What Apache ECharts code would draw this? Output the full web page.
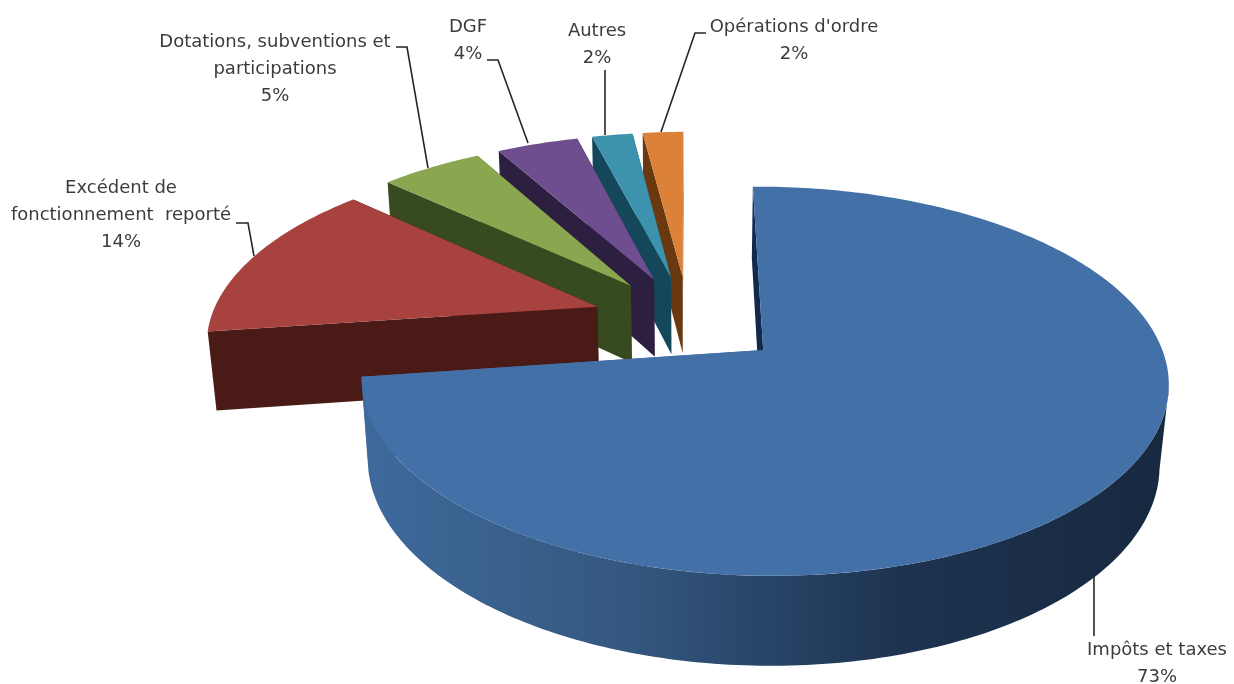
<!DOCTYPE html>
<html>
<head>
<meta charset="utf-8">
<style>html,body{margin:0;padding:0;background:#fff}#chart{width:1234px;height:684px}</style>
<script src="https://cdn.jsdelivr.net/npm/echarts@6/dist/echarts.min.js"></script>
</head>
<body>
<div id="chart"></div>
<script>
// Budget shares, in percent
const categories = ['Impôts et taxes', 'Excédent de fonctionnement reporté', 'Dotations, subventions et participations', 'DGF', 'Autres', "Opérations d'ordre"];
const shares = [73, 14, 5, 4, 2, 2];

// Label text, one array of lines per slice
const labelLines = [
  ['Impôts et taxes', '73%'],
  ['Excédent de', 'fonctionnement  reporté', '14%'],
  ['Dotations, subventions et', 'participations', '5%'],
  ['DGF', '4%'],
  ['Autres', '2%'],
  ["Opérations d'ordre", '2%']
];

// Slice colours: top face, inner cut faces, outer rim stops
const topColors = ['#4470a8', '#a8423f', '#8aa64e', '#6f4e8f', '#3d92ae', '#dc8238'];
const cutColors = ['#10294c', '#4a1a16', '#384a1f', '#2c1f40', '#15475a', '#6a390f'];
const rimColors = [
  ['#3f6a9c', '#34577f', '#1d3350', '#17293f'],
  ['#4a1a16', '#4a1a16', '#4a1a16', '#4a1a16'],
  ['#384a1f', '#384a1f', '#384a1f', '#384a1f'],
  ['#2c1f40', '#2c1f40', '#2c1f40', '#2c1f40'],
  ['#15475a', '#15475a', '#15475a', '#15475a'],
  ['#6a390f', '#6a390f', '#6a390f', '#6a390f']
];

// Label placement and leader lines
const labelCentres = [[1157, 650], [121, 188], [275, 42], [468, 27], [597, 31], [794, 27]];
const leaders = [
  [[1094, 576], [1094, 636]],
  [[236, 223], [248, 223], [254, 256]],
  [[396, 47], [407, 47], [428, 168]],
  [[487, 60], [498, 60], [528, 143]],
  [[605, 70], [605, 135]],
  [[706, 33], [695, 33], [661, 132]]
];

// Camera model of the tilted pie: ground plane (X right, Y towards viewer), Z downward
const cam = { cx: 688.5, cy: 320, sx: 388, sy: 180, persp: 0.156, depth: 80, fall: 0.0185, roll: 0.006 };
const explode = 0.25;
const lineHeight = 27;
const font = '18px "DejaVu Sans"';
const total = shares.reduce((a, b) => a + b, 0);
// Rim range between the two silhouette angles of the tilted cylinder
const rimFrom = Math.PI * 0.565, rimTo = Math.PI * 1.44;

function project(X, Y, Z) {
  const w = 1 - cam.persp * Y + cam.fall * Z;
  const dx = cam.sx * X / w;
  return [cam.cx + dx, cam.cy + (cam.sy * Y + cam.depth * Z) / w - cam.roll * dx];
}

function renderSlice(params, api) {
  const i = params.dataIndex;
  const before = shares.slice(0, i).reduce((a, b) => a + b, 0);
  const a0 = before / total * Math.PI * 2;
  const a1 = a0 + api.value(0) / total * Math.PI * 2;
  const mid = (a0 + a1) / 2;
  const ox = Math.sin(mid) * explode, oy = -Math.cos(mid) * explode;

  const arcAt = (from, to, Z) => {
    const steps = Math.max(8, Math.round((to - from) * 60));
    const pts = [];
    for (let k = 0; k <= steps; k++) {
      const t = from + (to - from) * k / steps;
      pts.push(project(ox + Math.sin(t), oy - Math.cos(t), Z));
    }
    return pts;
  };
  const top = arcAt(a0, a1, 0);
  const apexTop = project(ox, oy, 0), apexBottom = project(ox, oy, 1);
  const startTop = top[0], endTop = top[top.length - 1];
  const startBottom = project(ox + Math.sin(a0), oy - Math.cos(a0), 1);
  const endBottom = project(ox + Math.sin(a1), oy - Math.cos(a1), 1);
  const base = (6 - i) * 10;
  const stops = rimColors[i].map((color, n) => ({ offset: n / 3, color }));

  const poly = (points, fill, z) => ({ type: 'polygon', z2: base + z, shape: { points }, style: { fill } });
  // Painted back to front: trailing cut, rim, leading cut, top face
  const children = [poly([apexTop, endTop, endBottom, apexBottom], i === 0 ? rimColors[0][0] : cutColors[i], 0)];
  const rimStart = Math.max(a0, rimFrom), rimEnd = Math.min(a1, rimTo);
  if (rimEnd > rimStart) {
    const rimTop = arcAt(rimStart, rimEnd, 0);
    const rimBottom = arcAt(rimStart, rimEnd, 1);
    children.push(poly(rimTop.concat(rimBottom.reverse()), new echarts.graphic.LinearGradient(0, 0, 1, 0, stops), 1));
  }
  children.push(
    poly([apexTop, startTop, startBottom, apexBottom], cutColors[i], 2),
    poly([apexTop].concat(top), topColors[i], 3),
    { type: 'polyline', z2: 200, shape: { points: leaders[i] }, style: { stroke: '#262626', lineWidth: 1.6, fill: null } }
  );
  labelLines[i].forEach((text, n) => {
    children.push({
      type: 'text', z2: 210,
      style: {
        text, font, fill: '#3c3c3c', align: 'center', verticalAlign: 'middle',
        x: labelCentres[i][0], y: labelCentres[i][1] + n * lineHeight
      }
    });
  });
  return { type: 'group', children };
}

const chart = echarts.init(document.getElementById('chart'), null, { renderer: 'canvas' });
chart.setOption({
  backgroundColor: '#ffffff',
  animation: false,
  series: [{
    type: 'custom',
    coordinateSystem: 'none',
    renderItem: renderSlice,
    silent: true,
    data: categories.map((name, i) => ({ name, value: [shares[i]] }))
  }]
});
</script>
</body>
</html>
